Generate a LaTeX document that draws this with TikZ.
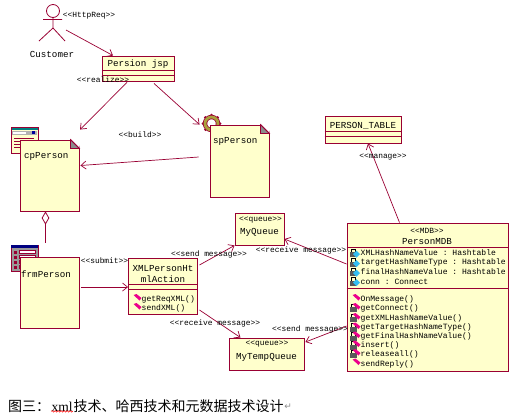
\documentclass[tikz,border=0pt]{standalone}
\usepackage{fontspec}
\setmainfont{Liberation Serif}
\setmonofont{Liberation Mono}
\newfontfamily\cjk{Noto Sans CJK SC}
\newfontfamily\symb{DejaVu Sans}
\usetikzlibrary{arrows.meta,shapes.geometric,positioning,decorations.pathmorphing}

\definecolor{umlline}{RGB}{153,0,51}
\definecolor{umlfill}{RGB}{255,255,204}
\definecolor{gearfill}{RGB}{170,160,60}

\tikzset{
    box/.style={draw=umlline, fill=umlfill, line width=0.9pt, inner sep=0pt},
    dep/.style={draw=umlline, line width=0.7pt, ->, >={Straight Barb[length=5pt,width=8pt]}},
    cname/.style={font=\fontsize{9.2}{10}\ttfamily, inner sep=0pt},
    msgtag/.style={font=\fontsize{7.9}{9}\ttfamily, inner sep=0pt},
    member/.style={font=\fontsize{8.05}{9}\ttfamily, inner sep=0pt, anchor=west},
}

% small member marks
\newcommand{\attrmark}[2]{\fill[cyan!80!white] (#1-3.5,#2+1) -- (#1,#2-2.5) -- (#1+3.5,#2+1) -- (#1,#2+4.5) -- cycle;}
\newcommand{\opmark}[2]{\fill[magenta] (#1-4,#2-3) -- (#1-1,#2-4) -- (#1+4,#2) -- (#1+2,#2+2.5) -- cycle;}
\newcommand{\lockmark}[2]{\fill[black!65] (#1-3.5,#2-1) rectangle (#1+3.5,#2+4); \draw[black, line width=0.8pt] (#1-2,#2-1) -- (#1-2,#2-4) -- (#1+2,#2-4) -- (#1+2,#2-1);}
\newcommand{\notefold}[1]{\fill[white] ([xshift=-9pt]#1.north east) -- ([xshift=1pt,yshift=1pt]#1.north east) -- ([yshift=-9pt]#1.north east) -- cycle;
    \filldraw[draw=umlline, fill=black!45, line width=0.7pt] ([xshift=-9pt]#1.north east) -- ([yshift=-9pt]#1.north east) -- ([xshift=-9pt,yshift=-9pt]#1.north east) -- cycle;
    \draw[umlline, line width=0.9pt] ([xshift=-9pt]#1.north east) -- ([yshift=-9pt]#1.north east);}

\begin{document}
\begin{tikzpicture}[x=1pt, y=-1pt]
    \useasboundingbox (0,0) rectangle (518,416);

    % actor
    \coordinate (actor) at (53,30);
    \draw[umlline, line width=0.8pt] (53,11) circle (6.5);
    \draw[umlline, line width=0.8pt] (53,17.5) -- (53,28) -- (39,41) (53,28) -- (65,41) (43,19.5) -- (62,19.5);
    \node[cname] (customer) at (52,54) {Customer};

    % form icons
    \filldraw[draw=umlline, fill=umlfill, line width=0.9pt] (11,127.5) rectangle (38,153);
    \fill[teal] (11.5,127.5) rectangle (37.5,130);
    \fill[black!30] (12,131) rectangle (37,135);
    \fill[white] (13,132) rectangle (26,134);
    \fill[blue!60!black] (32,131) rectangle (35,134);
    \foreach \y in {138,141,144,147}
        \draw[umlline, line width=0.7pt] (14,\y) -- (34,\y);

    \filldraw[draw=umlline, fill=black!40, line width=0.9pt] (11,245) rectangle (38,271);
    \fill[blue!50!black] (11,245) rectangle (38,248);
    \foreach \y in {252,257,262,267} {
        \fill[umlline] (14,\y-1.5) rectangle (17,\y+1.5);
        \draw[umlline, fill=white, line width=0.6pt] (19,\y-1.5) rectangle (35,\y+1.5);
    }

    % gear of spPerson
    \foreach \a in {0,45,...,315}
        \fill[umlline] (211.5,123.5) ++(\a:8.5) circle (1.5);
    \draw[umlline, line width=4.4pt] (211.5,123.5) circle (6.5);
    \draw[gearfill, line width=2.8pt] (211.5,123.5) circle (6.5);

    % classes
    \node[box, minimum width=72pt, minimum height=25pt] (persion) at (138,68.5) {};
    \node[cname] (persiontxt) at (138,64.5) {Persion jsp};
    \draw[umlline, line width=0.9pt] (persion.west |- 0,70.5) -- (persion.east |- 0,70.5);
    \draw[umlline, line width=0.9pt] (persion.west |- 0,75.5) -- (persion.east |- 0,75.5);

    \node[box, minimum width=76pt, minimum height=27pt] (table) at (363,129.5) {};
    \node[cname] (tabletxt) at (363,125.5) {PERSON\_TABLE};
    \draw[umlline, line width=0.9pt] (table.west |- 0,131) -- (table.east |- 0,131);
    \draw[umlline, line width=0.9pt] (table.west |- 0,136) -- (table.east |- 0,136);

    % pages
    \node[box, minimum width=59pt, minimum height=71pt] (cp) at (49.5,175.5) {};
    \node[cname, anchor=west] (cptxt) at (24,156) {cpPerson};
    \notefold{cp}
    \node[box, minimum width=59pt, minimum height=72pt] (sp) at (239.5,161) {};
    \node[cname, anchor=west] (sptxt) at (213,141) {spPerson};
    \notefold{sp}
    \node[box, minimum width=59pt, minimum height=71pt] (frm) at (49.5,292.5) {};
    \node[cname, anchor=west] (frmtxt) at (21,274) {frmPerson};

    % action class
    \node[box, minimum width=69pt, minimum height=56pt] (action) at (163,286) {};
    \node[cname] (actiontxt) at (163,268) {XMLPersonHt};
    \node[cname] (actiontxtb) at (163,279) {mlAction};
    \draw[umlline, line width=0.9pt] (action.west |- 0,284) -- (action.east |- 0,284);
    \draw[umlline, line width=0.9pt] (action.west |- 0,289) -- (action.east |- 0,289);
    \opmark{137.5}{298}
    \opmark{137.5}{307}
    \node[member] (getreq) at (141.5,299.5) {getReqXML()};
    \node[member] (sendxml) at (141.5,308.5) {sendXML()};

    % queues
    \node[box, minimum width=49pt, minimum height=32pt] (myqueue) at (259.5,229) {};
    \node[msgtag] (myqueuetag) at (260.5,220) {<{}<queue>{}>};
    \node[cname] (myqueuetxt) at (259.5,232) {MyQueue};
    \node[box, minimum width=75pt, minimum height=32pt] (tempqueue) at (266.5,354) {};
    \node[msgtag] (tempqueuetag) at (267,344.5) {<{}<queue>{}>};
    \node[cname] (tempqueuetxt) at (266.5,357) {MyTempQueue};

    % message bean
    \node[box, minimum width=161pt, minimum height=148pt] (mdb) at (427.5,297) {};
    \node[msgtag] (mdbtag) at (427,231) {<{}<MDB>{}>};
    \node[cname] (mdbtxt) at (427,241.5) {PersonMDB};
    \draw[umlline, line width=0.9pt] (mdb.west |- 0,247.5) -- (mdb.east |- 0,247.5);
    \draw[umlline, line width=0.9pt] (mdb.west |- 0,288.5) -- (mdb.east |- 0,288.5);
    \foreach \y/\txt in {253/XMLHashNameValue : Hashtable, 262.5/targetHashNameType : Hashtable, 272/finalHashNameValue : Hashtable, 281.5/conn : Connect} {
        \lockmark{353}{\y}
        \attrmark{356.5}{\y}
        \node[member] at (360.5,\y) {\txt};
    }
    \foreach \y/\txt in {308/getConnect(), 318/getXMLHashNameValue(), 327.5/getTargetHashNameType(), 336.5/getFinalHashNameValue(), 345.5/insert(), 354/releaseall()} {
        \lockmark{353}{\y}
        \opmark{356.5}{\y-1}
        \node[member] at (360.5,\y) {\txt};
    }
    \opmark{356.5}{298}
    \node[member] (onmessage) at (360.5,299.5) {OnMessage()};
    \opmark{356.5}{362.5}
    \node[member] (sendreply) at (360.5,364) {sendReply()};

    % connectors
    \draw[dep] (actor) ++(13,0) -- ([xshift=-25pt]persion.north);
    \draw[dep] ([xshift=-11pt,yshift=-1pt]persion.south) -- ([xshift=30.5pt,yshift=10pt]cp.north);
    \draw[dep] ([xshift=16pt,yshift=-2pt]persion.south) -- ([xshift=-10pt]sp.north west);
    \draw[dep] ([xshift=-11pt,yshift=4pt]sp.west) -- ([xshift=1pt,yshift=10pt]cp.east);
    \node[box, diamond, draw=umlline, fill=white, minimum width=7pt, minimum height=12pt, line width=0.8pt] (agg) at (45.5,218) {};
    \coordinate (frmtop) at (45.5,243);
    \draw[umlline, line width=0.8pt] (agg.south) -- (frmtop);
    \draw[dep] ([xshift=1.5pt,yshift=5.5pt]frm.east) -- ([yshift=-1pt]action.west);
    \draw[dep] ([xshift=1.5pt,yshift=21pt]action.east) -- (myqueue.south west);
    \draw[dep] ([xshift=1.5pt,yshift=-24pt]action.east) -- ([xshift=-26pt]tempqueue.north);
    \draw[dep] ([yshift=33pt]mdb.west) -- ([yshift=-10pt]myqueue.east);
    \draw[dep] ([yshift=-29pt]mdb.west) -- ([yshift=12pt,xshift=1pt]tempqueue.east);
    \draw[dep] ([xshift=-28pt]mdb.north) -- ([xshift=5pt]table.south);

    % connector labels
    \node[msgtag] (httpreq) at (89,16) {<{}<HttpReq>{}>};
    \node[msgtag] (realize) at (103,80) {<{}<realize>{}>};
    \node[msgtag] (build) at (140,134.5) {<{}<build>{}>};
    \node[msgtag] (submit) at (104.5,261) {<{}<submit>{}>};
    \node[msgtag] (sendup) at (209,254) {<{}<send message>{}>};
    \node[msgtag] (recvdown) at (215,323) {<{}<receive message>{}>};
    \node[msgtag] (recvup) at (301,250) {<{}<receive message>{}>};
    \node[msgtag] (senddown) at (310,329) {<{}<send message>{}>};
    \node[msgtag] (manage) at (383,157) {<{}<manage>{}>};

    % caption
    \node[inner sep=0pt, anchor=west, font=\fontsize{14}{16}\cjk] (capa) at (8,406.5) {图三：};
    \node[inner sep=0pt, right=1pt of capa, font=\fontsize{13.5}{16}\selectfont] (capb) {xml};
    \node[inner sep=0pt, right=0.5pt of capb, font=\fontsize{14}{16}\cjk] (capc) {技术、哈西技术和元数据技术设计};
    \node[inner sep=0pt, right=0.5pt of capc, font=\fontsize{9}{10}\symb, text=black!45] (capd) {↵};
    \draw[red, line width=0.5pt, decorate, decoration={zigzag, amplitude=0.8pt, segment length=3pt}] (capb.south west) -- (capb.south east);
\end{tikzpicture}
\end{document}
